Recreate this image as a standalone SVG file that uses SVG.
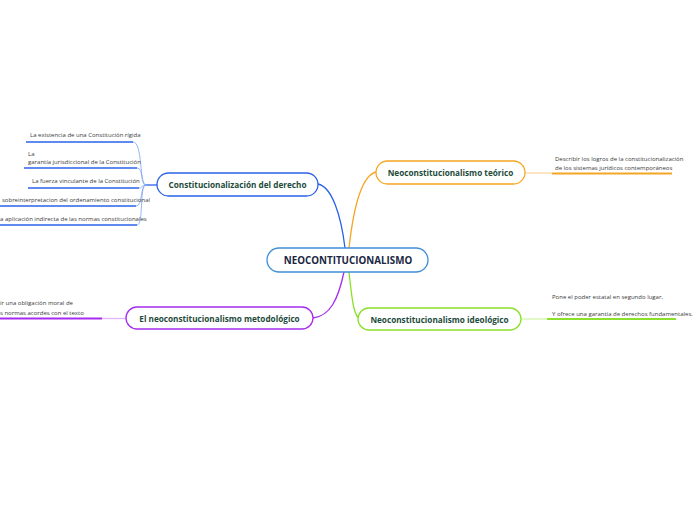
<svg xmlns="http://www.w3.org/2000/svg" width="696" height="520" viewBox="0 0 696 520">
<style>
.bg{fill:#ffffff}
.node{fill:#ffffff;stroke-width:1.3}
.lbl{font-family:"Open Sans","Noto Sans",sans-serif;font-weight:bold;font-size:8.2px;fill:#1d4b3a;text-anchor:middle;dominant-baseline:central}
.main{font-family:"Open Sans","Noto Sans",sans-serif;font-weight:bold;font-size:9.8px;fill:#1a2742;text-anchor:middle;dominant-baseline:central}
.sub{font-family:"Open Sans","Noto Sans",sans-serif;font-size:6px;fill:#3a3a3a}
.c{fill:none}
</style>
<rect class="bg" width="696" height="520"/>
<g id="connectors">
  <path class="c" d="M345,248 C341,215 332,187 318,184" stroke="#2a62e8" stroke-width="1.3"/>
  <path class="c" d="M349,248 C353,212 360,176 376,172" stroke="#f5a623" stroke-width="1.3"/>
  <path class="c" d="M344,272 C338,300 330,316 313,318" stroke="#a52cf0" stroke-width="1.3"/>
  <path class="c" d="M349,272 C352,300 354,318 360,318" stroke="#8ae02a" stroke-width="1.3"/>
  <path class="c" d="M157,185 L146,185" stroke="#2a62e8" stroke-width="1.3"/>
  <g stroke="#7ea3f2" stroke-width="0.8" fill="none">
    <path d="M146,185 C139,185 143,142 133,142"/>
    <path d="M146,185 C140,185 144,168 137,168"/>
    <path d="M146,185 C141,185 143,188 139,188"/>
    <path d="M146,185 C140,185 143,206 136,206"/>
    <path d="M146,185 C139,185 144,225 137,225"/>
  </g>
  <g stroke="#2a62e8" stroke-width="1.6">
    <line x1="26" y1="142" x2="133" y2="142"/>
    <line x1="24" y1="168" x2="137" y2="168"/>
    <line x1="28" y1="188" x2="139" y2="188"/>
    <line x1="0" y1="206" x2="136" y2="206"/>
    <line x1="0" y1="225" x2="137" y2="225"/>
  </g>
  <line x1="525" y1="173" x2="552" y2="173" stroke="#fcd9a3" stroke-width="1.3"/>
  <line x1="552" y1="173.5" x2="672" y2="173.5" stroke="#f5a623" stroke-width="1.8"/>
  <line x1="521" y1="319" x2="547" y2="319" stroke="#d3f5a9" stroke-width="1.3"/>
  <line x1="547" y1="319" x2="676" y2="319" stroke="#8ae02a" stroke-width="1.8"/>
  <line x1="102" y1="318.5" x2="126" y2="318.5" stroke="#e2b6f8" stroke-width="1.3"/>
  <line x1="0" y1="318.5" x2="102" y2="318.5" stroke="#a52cf0" stroke-width="1.8"/>
</g>
<g id="n-central">
  <rect class="node" x="267" y="248" width="161" height="24" rx="12" stroke="#3f8fd8"/>
  <text class="main" x="348" y="260.5">NEOCONTITUCIONALISMO</text>
</g>
<g id="n-constitucionalizacion">
  <rect class="node" x="157" y="173" width="161" height="23" rx="11.5" stroke="#2a62e8"/>
  <text class="lbl" x="237.5" y="184.5">Constitucionalización del derecho</text>
</g>
<g id="n-teorico">
  <rect class="node" x="376" y="161" width="149" height="23" rx="11.5" stroke="#f5a623"/>
  <text class="lbl" x="450.5" y="172.5">Neoconstitucionalismo teórico</text>
</g>
<g id="n-ideologico">
  <rect class="node" x="358" y="308" width="163" height="22" rx="11" stroke="#8ae02a"/>
  <text class="lbl" x="439.5" y="319">Neoconstitucionalismo ideológico</text>
</g>
<g id="n-metodologico">
  <rect class="node" x="126" y="307" width="187" height="22" rx="11" stroke="#a52cf0"/>
  <text class="lbl" x="219.5" y="318">El neoconstitucionalismo metodológico</text>
</g>
<g id="c-1"><text class="sub" x="30" y="137">La existencia de una Constitución rígida</text></g>
<g id="c-2"><text class="sub" x="28" y="156">La</text><text class="sub" x="28" y="164">garantía jurisdiccional de la Constitución</text></g>
<g id="c-3"><text class="sub" x="32" y="183">La fuerza vinculante de la Constitución</text></g>
<g id="c-4"><text class="sub" x="2" y="202">sobreinterpretacion del ordenamiento constitucional</text></g>
<g id="c-5"><text class="sub" x="0" y="221">a aplicación indirecta de las normas constitucionales</text></g>
<g id="c-6"><text class="sub" x="555" y="161">Describir los logros de la constitucionalización</text><text class="sub" x="555" y="170">de los sistemas jurídicos contemporáneos</text></g>
<g id="c-7"><text class="sub" x="552" y="299">Pone el poder estatal en segundo lugar,</text><text class="sub" x="552" y="316">Y ofrece una garantía de derechos fundamentales.</text></g>
<g id="c-8"><text class="sub" x="0" y="305">ir una obligación moral de</text><text class="sub" x="0" y="315">s normas acordes con el texto</text></g>
</svg>
